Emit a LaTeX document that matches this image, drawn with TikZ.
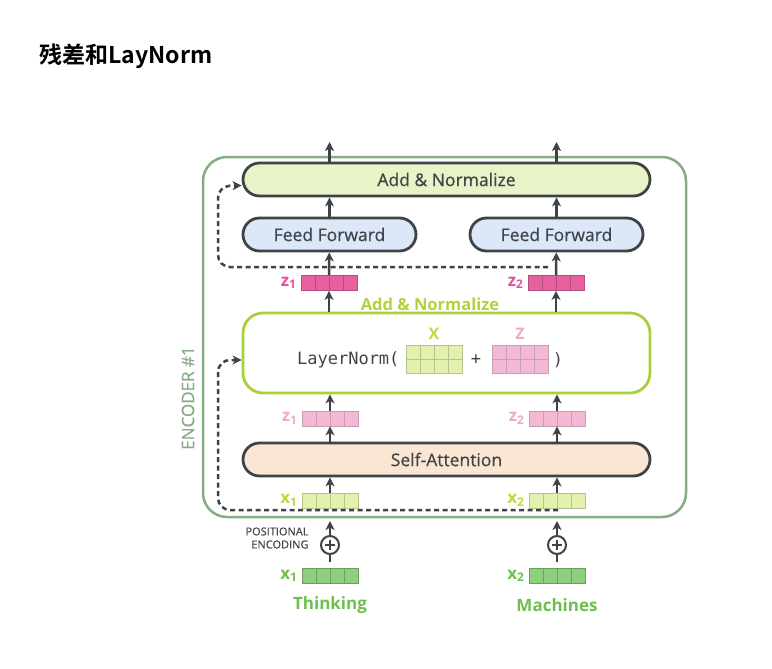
\documentclass[tikz,border=0pt]{standalone}
\usepackage{fontspec}
\setmainfont{Open Sans}
\setmonofont{DejaVu Sans Mono}
\newfontfamily\cjk{Noto Sans CJK SC}[BoldFont={Noto Sans CJK SC Bold}]
\newfontfamily\medium{Open Sans}[FakeBold=0.5]
\usetikzlibrary{positioning,arrows.meta}

\definecolor{edge}{HTML}{3F4247}
\definecolor{label}{HTML}{404348}
\definecolor{encgreen}{HTML}{86AC84}
\definecolor{lngreen}{HTML}{A8D03C}
\definecolor{addfill}{HTML}{E6F4C8}
\definecolor{fffill}{HTML}{DCE8F7}
\definecolor{safill}{HTML}{FBE5D3}
\definecolor{yfill}{HTML}{E2F1AD}
\definecolor{yline}{HTML}{B5C48C}
\definecolor{ylabel}{HTML}{C5D43C}
\definecolor{pfill}{HTML}{F4B8D4}
\definecolor{pline}{HTML}{C4A0B4}
\definecolor{plabel}{HTML}{F0A8C8}
\definecolor{mfill}{HTML}{E8619F}
\definecolor{mline}{HTML}{B0507F}
\definecolor{mlabel}{HTML}{E8509A}
\definecolor{gfill}{HTML}{8FD07E}
\definecolor{gline}{HTML}{6B9E60}
\definecolor{glabel}{HTML}{6DBF4D}
\definecolor{anlabel}{HTML}{B3D23A}

\tikzset{
  flow/.style={draw=edge,line width=2.5pt,-{Stealth[length=9pt,width=9pt,inset=2.5pt]}},
  resid/.style={flow,dash pattern=on 5pt off 3.5pt,rounded corners=12pt},
  layer/.style={draw=edge,line width=2.8pt,rounded corners=16.5pt,minimum height=33pt,
    text=label,font=\medium\fontsize{17.5}{20}\selectfont},
  vec/.style={draw=#1,line width=.8pt,minimum width=56pt,minimum height=15pt,inner sep=0pt,
    path picture={\foreach \k in {1,2,3}
      \draw[#1,line width=.8pt] ([xshift=\k*14pt]path picture bounding box.south west)
        -- ([xshift=\k*14pt]path picture bounding box.north west);}},
  mat/.style={draw=#1,line width=.8pt,minimum width=56pt,minimum height=28pt,inner sep=0pt,
    path picture={\foreach \k in {1,2,3}
      \draw[#1,line width=.8pt] ([xshift=\k*14pt]path picture bounding box.south west)
        -- ([xshift=\k*14pt]path picture bounding box.north west);
      \draw[#1,line width=.8pt] (path picture bounding box.west) -- (path picture bounding box.east);}},
  sub/.style={font=\bfseries\fontsize{17}{19}\selectfont,inner sep=0pt},
  plus/.style={draw=edge,circle,line width=2pt,minimum size=18pt,inner sep=0pt,
    path picture={\draw[edge,line width=2pt] (path picture bounding box.center) +(-5,0) -- +(5,0)
      +(0,-5) -- +(0,5);}},
  word/.style={text=glabel,font=\bfseries\fontsize{17}{20}\selectfont}
}

\begin{document}
\begin{tikzpicture}[x=1pt,y=-1pt]
\useasboundingbox (0,0) rectangle (772,669);

% title
\node[anchor=west,font=\cjk\bfseries\fontsize{23}{26}\selectfont] (title) at (36,56) {残差和LayNorm};

% encoder frame
\node[draw=encgreen,line width=2.5pt,rounded corners=24pt,minimum width=483pt,minimum height=360pt] (encoder) at (444.5,337) {};
\node[rotate=90,text=encgreen,font=\medium\fontsize{17}{19}\selectfont] (enclbl) at (188,398) {ENCODER \#1};

% layers
\node[layer,fill=addfill,minimum width=407pt] (addnorm) at (446.5,179.5) {Add \& Normalize};
\node[layer,fill=fffill,minimum width=173pt] (ff1) at (329.5,234.5) {Feed Forward};
\node[layer,fill=fffill,minimum width=173pt] (ff2) at (556.5,234.5) {Feed Forward};
\node[draw=lngreen,line width=2.8pt,rounded corners=20pt,minimum width=407pt,minimum height=80pt] (lnbox) at (446.5,353) {};
\node[text=anlabel,font=\bfseries\fontsize{16.5}{19}\selectfont] (anlbl) at (430,304) {Add \& Normalize};
\node[layer,fill=safill,minimum width=407pt] (sa) at (446.5,459.5) {Self-Attention};

% inside the LayerNorm box
\node[anchor=east,text=label,font=\ttfamily\fontsize{17}{19}\selectfont] (lntext) at (403,360) {LayerNorm(};
\node[mat=yline,fill=yfill] (xmat) at (434,359) {};
\node[mat=pline,fill=pfill] (zmat) at (520,359) {};
\node[text=ylabel,font=\bfseries\fontsize{16}{18}\selectfont] (xlbl) at (434,334) {X};
\node[text=plabel,font=\bfseries\fontsize{16}{18}\selectfont] (zlbl) at (520,334) {Z};
\node[text=label,font=\ttfamily\fontsize{17}{19}\selectfont] (plussign) at (476,360) {+};
\node[text=label,font=\ttfamily\fontsize{17}{19}\selectfont] (paren) at (558,360) {)};

% vectors
\node[vec=mline,fill=mfill] (zb1) at (329,283) {};
\node[vec=mline,fill=mfill] (zb2) at (556,283) {};
\node[vec=pline,fill=pfill] (zp1) at (330,418.5) {};
\node[vec=pline,fill=pfill] (zp2) at (557,418.5) {};
\node[vec=yline,fill=yfill] (xy1) at (330,500.5) {};
\node[vec=yline,fill=yfill] (xy2) at (557,500.5) {};
\node[vec=gline,fill=gfill] (xg1) at (330,576) {};
\node[vec=gline,fill=gfill] (xg2) at (557,576) {};

\node[sub,text=mlabel,left=4pt of zb1] (zb1l) {z\textsubscript{1}};
\node[sub,text=mlabel,left=4pt of zb2] (zb2l) {z\textsubscript{2}};
\node[sub,text=plabel,left=4pt of zp1] (zp1l) {z\textsubscript{1}};
\node[sub,text=plabel,left=4pt of zp2] (zp2l) {z\textsubscript{2}};
\node[sub,text=ylabel,left=4pt of xy1] (xy1l) {x\textsubscript{1}};
\node[sub,text=ylabel,left=4pt of xy2] (xy2l) {x\textsubscript{2}};
\node[sub,text=glabel,left=4pt of xg1] (xg1l) {x\textsubscript{1}};
\node[sub,text=glabel,left=4pt of xg2] (xg2l) {x\textsubscript{2}};

% positional encoding
\node[plus] (pe1) at (330,545) {};
\node[plus] (pe2) at (557,545) {};
\node[anchor=east,align=right,text=label,font=\medium\fontsize{11}{13}\selectfont] (pelbl) at (312,538) {POSITIONAL\\ENCODING};

% words
\node[word] (w1) at (330,605) {Thinking};
\node[word] (w2) at (557,605) {Machines};

% free ends
\coordinate (out1) at (329.5,142);
\coordinate (out2) at (556.5,142);
\coordinate (in1) at (330,521);
\coordinate (in2) at (557,521);
\coordinate (r1) at (548,267);
\coordinate (k1) at (218,186);
\coordinate (r2) at (558,510);
\coordinate (k2) at (218,360);

% flow
\foreach \i in {1,2} {
  \draw[flow] (xy\i) -- (xy\i |- sa.south);
  \draw[flow] (sa.north -| zp\i) -- (zp\i);
  \draw[flow] (zp\i) -- (zp\i |- lnbox.south);
  \draw[flow] (lnbox.north -| zb\i) -- (zb\i);
  \draw[flow] (zb\i) -- (ff\i);
  \draw[flow] (ff\i) -- (ff\i |- addnorm.south);
  \draw[flow] (addnorm.north -| ff\i) -- (out\i);
  \draw[edge,line width=2.5pt] ([yshift=6pt]xg\i.north) -- (pe\i);
  \draw[flow] (pe\i) -- (in\i);
}

% residuals
\draw[resid] (r1) -| (k1) -- ([yshift=-6pt]addnorm.west);
\draw[resid] (r2) -| (k2) -- ([yshift=-7pt]lnbox.west);
\end{tikzpicture}
\end{document}
